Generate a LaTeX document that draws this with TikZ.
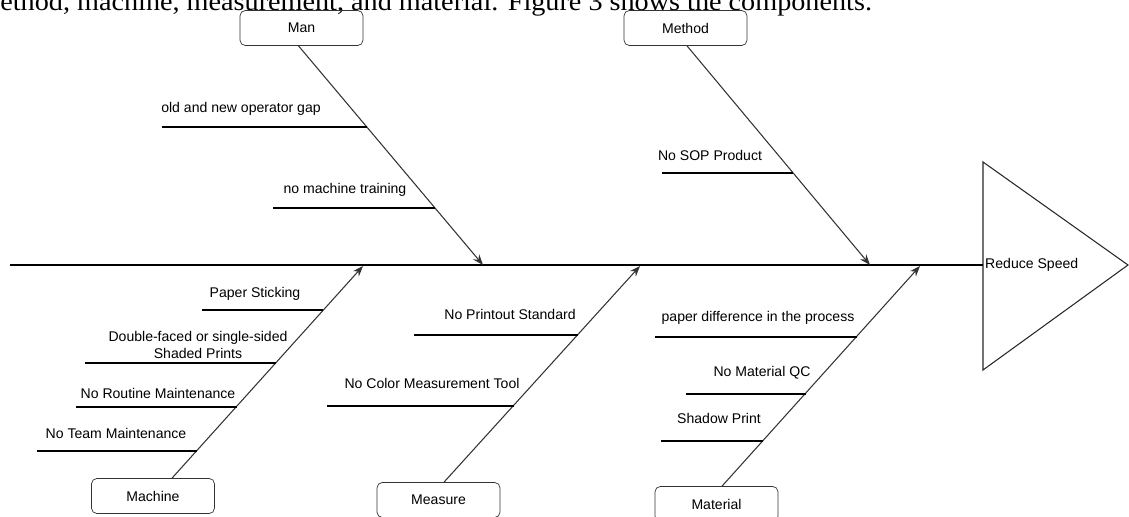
\documentclass[tikz,border=0pt]{standalone}
\usepackage{fontspec}
\setmainfont{Liberation Sans}
\newfontfamily\bodyserif[FakeStretch=1.07]{Liberation Serif}
\usetikzlibrary{arrows.meta,calc}

\begin{document}
\begin{tikzpicture}[x=0.02cm,y=-0.02cm,>={Stealth[length=6pt,width=4.5pt]},
  cat/.style={draw=black!80,rounded corners=3pt,minimum width=2.46cm,minimum height=0.7cm,inner sep=0pt,font=\fontsize{8}{9}\selectfont},
  bone/.style={->,line width=0.6pt,draw=black!80},
  twig/.style={line width=0.6pt},
  cause/.style={font=\fontsize{8}{10}\selectfont,inner sep=0pt,align=center}]
\useasboundingbox (0,0) rectangle (1129,517);

% text of the page above the figure
\node[anchor=base west,inner sep=0pt,font=\bodyserif\fontsize{15}{17}\selectfont] (intro) at (0,11)
  {ethod, machine, measurement, and material. Figure 3 shows the components.};

% head and spine
\draw[line width=0.6pt,black!85] (983,162) -- (1128,265) -- (983,370) -- cycle;
\coordinate (head) at (983,265);
\coordinate (tail) at (10,265);
\draw[line width=0.6pt] (tail) -- (head);
\node[anchor=west,inner sep=0.5pt,font=\fontsize{8}{9}\selectfont] (effect) at (984,265) {Reduce Speed};

% categories
\node[cat] (man) at (301.5,28) {Man};
\node[cat] (method) at (685.5,28) {Method};
\node[cat] (machine) at (153,496) {Machine};
\node[cat] (measure) at (438.5,500) {Measure};
\node[cat] (material) at (716.5,504) {Material};

\coordinate (manTip) at (483,265);
\coordinate (methodTip) at (870,265);
\coordinate (machineTip) at (363,266);
\coordinate (measureTip) at (640,266);
\coordinate (materialTip) at (920,266);

\draw[bone] ($(man.south)+(-3,0)$) -- (manTip);
\draw[bone] ($(method.south)+(1.5,0)$) -- (methodTip);
\draw[bone] ($(machine.north)+(19,0)$) -- (machineTip);
\draw[bone] ($(measure.north)+(5.5,0)$) -- (measureTip);
\draw[bone] ($(material.north)+(5.5,0)$) -- (materialTip);

% man
\path (162,127) coordinate (gapL) (367,127) coordinate (gapR);
\draw[twig] (gapL) -- (gapR);
\node[cause] (gap) at (241,109) {old and new operator gap};
\path (273,208) coordinate (trainL) (435,208) coordinate (trainR);
\draw[twig] (trainL) -- (trainR);
\node[cause] (train) at (345,190) {no machine training};

% method
\path (662,173) coordinate (sopL) (793,173) coordinate (sopR);
\draw[twig] (sopL) -- (sopR);
\node[cause] (sop) at (710,155) {No SOP Product};

% machine
\path (202,310) coordinate (stickL) (323,310) coordinate (stickR);
\draw[twig] (stickL) -- (stickR);
\node[cause] (stick) at (255,294) {Paper Sticking};
\path (85,363) coordinate (shadeL) (276,363) coordinate (shadeR);
\draw[twig] (shadeL) -- (shadeR);
\node[cause] (shade) at (198,345) {Double-faced or single-sided\\Shaded Prints};
\path (76,407) coordinate (routL) (237,407) coordinate (routR);
\draw[twig] (routL) -- (routR);
\node[cause] (rout) at (158,393) {No Routine Maintenance};
\path (37,451) coordinate (teamL) (197,451) coordinate (teamR);
\draw[twig] (teamL) -- (teamR);
\node[cause] (team) at (116,433) {No Team Maintenance};

% measure
\path (414,335) coordinate (stdL) (578,335) coordinate (stdR);
\draw[twig] (stdL) -- (stdR);
\node[cause] (std) at (510,314) {No Printout Standard};
\path (327,406) coordinate (toolL) (514,406) coordinate (toolR);
\draw[twig] (toolL) -- (toolR);
\node[cause] (tool) at (432,383) {No Color Measurement Tool};

% material
\path (655,337) coordinate (diffL) (857,337) coordinate (diffR);
\draw[twig] (diffL) -- (diffR);
\node[cause] (diff) at (758,318) {paper difference in the process};
\path (686,394) coordinate (qcL) (806,394) coordinate (qcR);
\draw[twig] (qcL) -- (qcR);
\node[cause] (qc) at (762,373) {No Material QC};
\path (661,441) coordinate (shadowL) (763,441) coordinate (shadowR);
\draw[twig] (shadowL) -- (shadowR);
\node[cause] (shadow) at (719,418) {Shadow Print};
\end{tikzpicture}
\end{document}
